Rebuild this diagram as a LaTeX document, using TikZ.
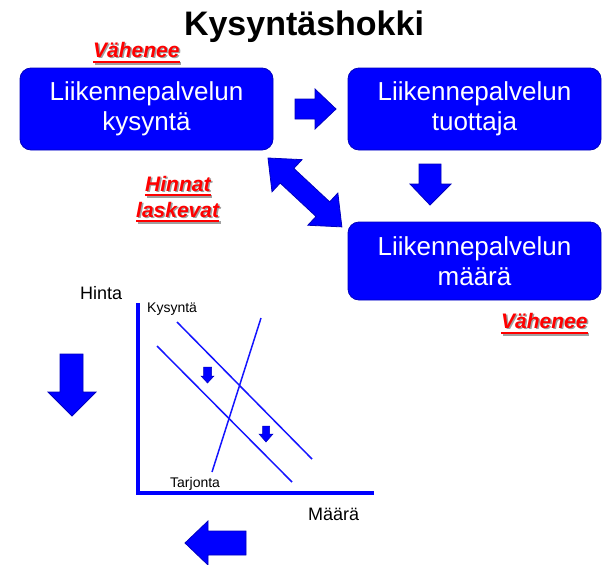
\documentclass[tikz,border=0pt]{standalone}
\usepackage{fontspec}
\setmainfont{Liberation Sans}
\definecolor{boxblue}{RGB}{0,0,255}
\definecolor{edgeblue}{RGB}{0,0,190}
\definecolor{lineblue}{RGB}{20,20,255}
\definecolor{shadowgray}{RGB}{160,160,160}
\definecolor{lblred}{RGB}{255,0,0}
\tikzset{
  bluebox/.style={draw=edgeblue, line width=0.8pt, fill=boxblue, rounded corners=11pt,
    text=white, align=center, font=\fontsize{26}{30}\selectfont, inner sep=0pt},
  blockarrow/.style={draw=edgeblue, line width=0.8pt, fill=boxblue},
  redtext/.style={text=lblred, font=\fontsize{21}{26}\selectfont\bfseries\itshape, inner sep=0pt, anchor=base west},
  shadowtext/.style={text=shadowgray, font=\fontsize{21}{26}\selectfont\bfseries\itshape, inner sep=0pt, anchor=base west},
  redline/.style={draw=lblred, line width=2.6pt},
  shadowline/.style={draw=shadowgray, line width=2.6pt},
  curve/.style={draw=lineblue, line width=1.5pt},
  axis/.style={draw=boxblue, line width=3.8pt},
  graphlbl/.style={inner sep=0pt, anchor=base west, text=black}
}
\begin{document}
\begin{tikzpicture}[x=1pt,y=-1pt]
\useasboundingbox (0,0) rectangle (611,565);
% title
\node[font=\fontsize{34}{40}\selectfont\bfseries, anchor=base] (title) at (304,35) {Kysyntäshokki};
% boxes
\path[bluebox] (20,68) rectangle (273,150);
\node[text=white, align=center, font=\fontsize{26}{30}\selectfont, inner sep=0pt] (b1) at (146.5,109) {Liikennepalvelun\\kysyntä};
\path[bluebox] (348,68) rectangle (601,150);
\node[text=white, align=center, font=\fontsize{26}{30}\selectfont, inner sep=0pt] (b2) at (474.5,109) {Liikennepalvelun\\tuottaja};
\path[bluebox] (348,222) rectangle (601,300);
\node[text=white, align=center, font=\fontsize{26}{30}\selectfont, inner sep=0pt] (b3) at (474.5,261) {Liikennepalvelun\\määrä};
% block arrows
\path[blockarrow] (295,99) -- (315,99) -- (315,89) -- (336,109) -- (315,129) -- (315,119) -- (295,119) -- cycle;
\path[blockarrow] (419,164) -- (441,164) -- (441,184) -- (451,184) -- (430,205) -- (410,184) -- (419,184) -- cycle;
\begin{scope}[shift={(268,158)}, rotate=-43]
\path[blockarrow] (0,0) -- (26,-22) -- (26,-10) -- (75,-10) -- (75,-22) -- (101,0) -- (75,22) -- (75,10) -- (26,10) -- (26,22) -- cycle;
\end{scope}
\path[blockarrow] (60,354) -- (83,354) -- (83,392) -- (96,392) -- (72,416) -- (48,392) -- (60,392) -- cycle;
\path[blockarrow] (246,531) -- (208,531) -- (208,521) -- (185,543) -- (208,565) -- (208,555) -- (246,555) -- cycle;
% red labels
\node[shadowtext] (s1) at (94.5,58.5) {Vähenee};
\node[redtext] (r1) at (93,57) {Vähenee};
\draw[shadowline] ([xshift=1.5pt,yshift=-6.5pt]r1.base west) -- ([xshift=1.5pt,yshift=-6.5pt]r1.base east);
\draw[redline] ([yshift=-5pt]r1.base west) -- ([yshift=-5pt]r1.base east);
\node[shadowtext] (s2) at (146.5,192.5) {Hinnat};
\node[redtext] (r2) at (145,191) {Hinnat};
\draw[shadowline] ([xshift=1.5pt,yshift=-5.5pt]r2.base west) -- ([xshift=1.5pt,yshift=-5.5pt]r2.base east);
\draw[redline] ([yshift=-4pt]r2.base west) -- ([yshift=-4pt]r2.base east);
\node[shadowtext] (s3) at (137.5,218.5) {laskevat};
\node[redtext] (r3) at (136,217) {laskevat};
\draw[shadowline] ([xshift=1.5pt,yshift=-5.5pt]r3.base west) -- ([xshift=1.5pt,yshift=-5.5pt]r3.base east);
\draw[redline] ([yshift=-4pt]r3.base west) -- ([yshift=-4pt]r3.base east);
\node[shadowtext] (s4) at (502.5,329.5) {Vähenee};
\node[redtext] (r4) at (501,328) {Vähenee};
\draw[shadowline] ([xshift=1.5pt,yshift=-6.5pt]r4.base west) -- ([xshift=1.5pt,yshift=-6.5pt]r4.base east);
\draw[redline] ([yshift=-5pt]r4.base west) -- ([yshift=-5pt]r4.base east);
% graph
\coordinate (origin) at (138,493);
\coordinate (ytop) at (138,303);
\coordinate (xend) at (374,493);
\draw[axis] (ytop) -- ([yshift=-1.9pt]origin) ;
\draw[axis] ([xshift=-1.9pt]origin) -- (xend);
\coordinate (d1a) at (177,322);
\coordinate (d1b) at (312,459);
\coordinate (d2a) at (157,346);
\coordinate (d2b) at (292,482);
\coordinate (sa) at (212,472);
\coordinate (sb) at (261,318);
\draw[curve] (d1a) -- (d1b);
\draw[curve] (d2a) -- (d2b);
\draw[curve] (sa) -- (sb);
\path[blockarrow, line width=0.5pt] (203.5,367) -- (211.5,367) -- (211.5,376) -- (214,376) -- (207.5,383) -- (201,376) -- (203.5,376) -- cycle;
\path[blockarrow, line width=0.5pt] (262.5,426) -- (269.5,426) -- (269.5,434) -- (273,434) -- (266,442) -- (259,434) -- (262.5,434) -- cycle;
\node[graphlbl, font=\fontsize{18}{22}\selectfont] (hinta) at (80,299) {Hinta};
\node[graphlbl, font=\fontsize{18}{22}\selectfont] (maara) at (308,520) {Määrä};
\node[graphlbl, font=\fontsize{14}{17}\selectfont] (kys) at (147,312) {Kysyntä};
\node[graphlbl, font=\fontsize{14}{17}\selectfont] (tarj) at (170,487) {Tarjonta};
\end{tikzpicture}
\end{document}
